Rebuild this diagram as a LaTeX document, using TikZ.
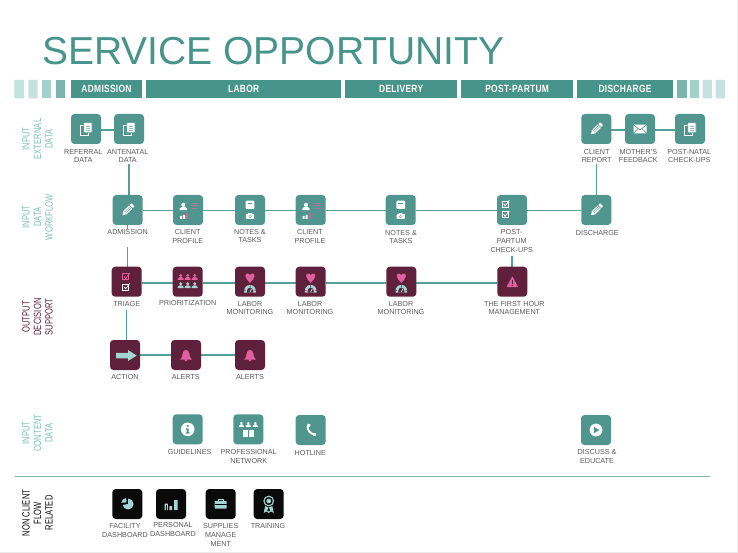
\documentclass[tikz,border=0pt]{standalone}
\usepackage{fontspec}
\setmainfont{Liberation Sans}
\newfontfamily\condfont[FakeStretch=0.72,LetterSpace=1]{Liberation Sans}
\newfontfamily\headfont[FakeStretch=0.8,LetterSpace=3]{Liberation Sans}
\pgfdeclarelayer{lines}
\pgfsetlayers{lines,main}
\definecolor{teal1}{HTML}{50968F}
\definecolor{head1}{HTML}{47948A}
\definecolor{wine}{HTML}{5F203B}
\definecolor{ink}{HTML}{0A0A0A}
\definecolor{wire}{HTML}{559F99}
\definecolor{pinkk}{HTML}{E0609F}
\definecolor{mint}{HTML}{A3D6D0}
\definecolor{capt}{HTML}{5A5A5A}
\definecolor{rowt}{HTML}{7CBFB4}
\definecolor{stripA}{HTML}{C4E2E0}
\definecolor{stripB}{HTML}{A2D0CA}
\definecolor{stripC}{HTML}{7BB4AC}
\tikzset{
  x=1pt,y=-1pt,
  tbox/.style={fill=teal1,rounded corners=3.5pt,minimum size=30pt,inner sep=0pt,outer sep=0pt},
  wbox/.style={tbox,fill=wine},
  kbox/.style={tbox,fill=ink},
  wirel/.style={draw=wire,line width=1.3pt},
  capt/.style={fill=white,inner sep=0.7pt,anchor=north,align=center,text=capt,font=\fontsize{7.2}{8.6}\selectfont},
  rowlab/.style={rotate=90,align=center,anchor=center,font=\condfont\fontsize{10.5}{11.5}\selectfont},
}
\newcommand\boxat[4]{\node[#1] (#2) at (#3,#4) {};}
\newcommand\lab[5][]{\node[capt,#1] (l#2) at (#3,#4-3.3) {#5};}
\newcommand\wirebetween[3]{\draw[wirel] ([yshift=-#3pt]#1.east) -- ([yshift=-#3pt]#2.west);}
\newcommand\phasebar[3]{\fill[head1] (#2,80) rectangle (#3,98.3); \node[text=white,font=\headfont\bfseries\fontsize{10.5}{12}\selectfont] at ({(#2+#3)/2},89) {#1};}
% small drawing helpers, all relative to an icon centre: x, y, half width, colour
\newcommand\person[4]{\fill[#4] (#1,#2-#3*.45) circle ({#3*.55}); \fill[#4] (#1-#3,#2+#3) -- (#1-#3,#2+#3*.6) -- (#1-#3*.35,#2+#3*.05) -- (#1+#3*.35,#2+#3*.05) -- (#1+#3,#2+#3*.6) -- (#1+#3,#2+#3) -- cycle;}
\newcommand\chk[3]{\draw[#3,line width=.55pt] (#1,#2) rectangle (#1+6,#2+6); \draw[#3,line width=.8pt] (#1+1.3,#2+2.8) -- (#1+3,#2+4.8) -- (#1+7,#2-.6);}
\newcommand\heart[2]{\fill[pinkk] (#1,#2+5.6) .. controls (#1-2,#2+3) and (#1-4.6,#2+1.5) .. (#1-4.6,#2-1.2) .. controls (#1-4.6,#2-4.4) and (#1-1,#2-4.6) .. (#1,#2-2) .. controls (#1+1,#2-4.6) and (#1+4.6,#2-4.4) .. (#1+4.6,#2-1.2) .. controls (#1+4.6,#2+1.5) and (#1+2,#2+3) .. (#1,#2+5.6) -- cycle;}
\tikzset{
 pics/docs/.style={code={
   \draw[white,line width=.9pt] (-5.5,-3.5) rectangle (2,6);
   \fill[white,draw=teal1,line width=.6pt,rounded corners=.6pt] (-2.2,-6.4) rectangle (6,3.8);
   \draw[teal1!60!white,line width=.5pt] (0,-3) -- (4,-3) (0,-1) -- (4,-1) (0,1) -- (4,1);
 }},
 pics/pencil/.style={code={
  \begin{scope}[rotate=45]
   \fill[white] (-4,-2.3) -- (-7.4,0) -- (-4,2.3) -- (4,2.3) -- (4,-2.3) -- cycle;
   \fill[white,rounded corners=.6pt] (4.9,-2.3) rectangle (7.4,2.3);
   \draw[teal1,line width=.4pt] (-4,-.8) -- (4,-.8) (-4,.8) -- (4,.8);
  \end{scope}
 }},
 pics/mail/.style={code={
   \fill[white,rounded corners=.6pt] (-6.5,-4.3) rectangle (6.5,4.3);
   \draw[teal1,line width=.6pt] (-6.5,-4.3) -- (0,1) -- (6.5,-4.3) (-6.5,4.3) -- (-2,-.6) (6.5,4.3) -- (2,-.6);
 }},
 pics/profile/.style={code={
   \person{-4.7}{-3.6}{3.7}{white}
   \draw[pinkk!65!teal1,line width=.7pt] (2.7,-6.5) -- (10,-6.5) (2.7,-4.2) -- (10,-4.2) (2.7,-2) -- (10,-2);
   \fill[white] (-8,6) rectangle (-6,9) (-5,4.8) rectangle (-3,9);
   \fill[pinkk] (-2,3) rectangle (0,9);
 }},
 pics/notes/.style={code={
   \fill[white,rounded corners=1pt] (-4.3,-9.3) rectangle (4.3,-1);
   \fill[teal1] (-2.3,-7.4) rectangle (2.3,-6);
   \fill[white,rounded corners=.8pt] (-4.2,4) rectangle (4.2,9);
   \fill[white] (-1.6,3.2) rectangle (1.6,4.5);
   \fill[teal1] (0,6.5) circle (1.5);
   \fill[white] (0,6.5) circle (.8);
 }},
 pics/checks/.style={code={
   \chk{-9.7}{-9}{white}
   \chk{-9.7}{1.4}{white}
 }},
 pics/triage/.style={code={
   \chk{-4}{-8}{pinkk}
   \chk{-4}{2.3}{white}
 }},
 pics/people/.style={code={
   \person{-7}{-4.8}{3}{pinkk}\person{0}{-4.8}{3}{pinkk}\person{7}{-4.8}{3}{pinkk}
   \person{-7}{3.4}{3}{mint}\person{0}{3.4}{3}{mint}\person{7}{3.4}{3}{mint}
 }},
 pics/labor/.style={code={
   \heart{0}{-4.4}
   \begin{scope}[y=1pt,shift={(0,-11)}]
   \fill[mint] (-5.8,0) -- (-5.8,2) arc[start angle=180,end angle=0,radius=5.8] -- (5.8,0) -- cycle;
   \fill[wine] (-3,0) -- (-3,2) arc[start angle=180,end angle=0,radius=3] -- (3,0) -- cycle;
   \draw[mint,line width=.9pt] (0,.6) -- (1.6,4);
   \draw[wine,line width=.5pt] (-4.4,2.2) -- (-5.8,2.6) (4.4,2.2) -- (5.8,2.6) (0,5) -- (0,8);
   \end{scope}
 }},
 pics/bell/.style={code={
   \fill[pinkk] (-6,4.6) .. controls (-3.6,3) and (-3.8,1) .. (-3.4,-1.6) .. controls (-3,-4) and (-1.4,-5) .. (0,-5) .. controls (1.4,-5) and (3,-4) .. (3.4,-1.6) .. controls (3.8,1) and (3.6,3) .. (6,4.6) -- cycle;
   \fill[pinkk] (0,5.2) circle (1.5);
 }},
 pics/flagarrow/.style={code={
   \fill[mint] (-9,-2.2) -- (3,-2.2) -- (3,-5) -- (11.7,0.6) -- (3,6) -- (3,3.4) -- (-9,3.4) -- cycle;
 }},
 pics/warn/.style={code={
   \fill[pinkk,rounded corners=.7pt] (0,-5.6) -- (5.8,5.4) -- (-5.8,5.4) -- cycle;
   \fill[wine] (-.7,-1.6) rectangle (.7,2.2);
   \fill[wine] (0,3.6) circle (.8);
 }},
 pics/info/.style={code={
   \fill[white] (0,0) circle (6.8);
   \fill[teal1] (0,-3.4) circle (1.2);
   \fill[teal1] (-1.8,-1) -- (1,-1) -- (1,3) -- (1.9,3) -- (1.9,4.4) -- (-1.9,4.4) -- (-1.9,3) -- (-1,3) -- (-1,.2) -- (-1.8,.2) -- cycle;
 }},
 pics/network/.style={code={
   \person{-7}{-5}{2.5}{white}\person{0}{-5}{2.5}{white}\person{7}{-5}{2.5}{white}
   \fill[white] (-5.6,1) rectangle (-.4,8);
   \fill[white] (.4,1) rectangle (5.6,8);
 }},
 pics/phone/.style={code={
   \draw[white,line width=2pt,line cap=round] (-3.2,-3.6) .. controls (-3.2,0) and (-.4,3.8) .. (3.6,4.4);
   \fill[white,rotate=-15] (-4.6,-5.4) rectangle (-1.6,-2.6);
   \fill[white] (2.2,2.8) rectangle (5,5.6);
 }},
 pics/play/.style={code={
   \fill[white] (0,0) circle (6.4);
   \fill[teal1] (-2,-3.2) -- (3.4,0) -- (-2,3.2) -- cycle;
 }},
 pics/piechart/.style={code={
   \begin{scope}[y=1pt]
   \fill[mint] (.8,0) -- (.8,5.5) arc[start angle=90,end angle=-170,radius=5.5] -- cycle;
   \fill[mint] (-.8,1.6) -- (-6,1.2) arc[start angle=175,end angle=95,radius=5.3] -- cycle;
   \end{scope}
 }},
 pics/barsic/.style={code={
   \fill[mint] (-6.5,-.5) rectangle (-3.2,6.2) (-1.6,2) rectangle (1.2,6.2) (3,-4) rectangle (6.5,6.2);
   \fill[ink] (-5.4,1) rectangle (-4.2,6);
 }},
 pics/brief/.style={code={
   \draw[mint,line width=.8pt] (-2.4,-2.6) -- (-2.4,-4.6) -- (2.4,-4.6) -- (2.4,-2.6);
   \fill[mint,rounded corners=.8pt] (-6,-3.2) rectangle (6,4.6);
   \fill[ink] (-6,.2) rectangle (6,1);
 }},
 pics/ribbon/.style={code={
   \fill[mint] (-3.4,1) -- (-5,9) -- (-2.4,7.4) -- (0,9) -- (2.4,7.4) -- (5,9) -- (3.4,1) -- cycle;
   \fill[ink] (0,2.8) -- (-1.4,7) -- (1.4,7) -- cycle;
   \fill[ink] (0,-3) circle (6);
   \draw[mint,line width=1.1pt] (0,-3) circle (4.8);
   \fill[mint] (0,-3) circle (2.4);
 }},
}
\begin{document}
\begin{tikzpicture}
\useasboundingbox (0,0) rectangle (738,553);
\begin{pgfonlayer}{lines}
\fill[white] (0,0) rectangle (738,553);
\end{pgfonlayer}
\draw[black!8,line width=.8pt] (737.4,0) -- (737.4,553) (0,552.6) -- (738,552.6);

\node[anchor=base west,inner sep=0pt,text=head1,font=\fontsize{39}{42}\selectfont] (title) at (42,65) {SERVICE OPPORTUNITY};

% phase strip
\fill[stripA] (14.3,80) rectangle (24,98.3) (28.3,80) rectangle (37.7,98.3);
\fill[stripB] (42,80) rectangle (51.3,98.3);
\fill[stripC] (55.7,80) rectangle (65,98.3);
\fill[stripC] (677,80) rectangle (686.7,98.3);
\fill[stripB] (690,80) rectangle (699.3,98.3);
\fill[stripA] (702.7,80) rectangle (712,98.3) (715.7,80) rectangle (725,98.3);
\phasebar{ADMISSION}{71}{142}
\phasebar{LABOR}{146}{341.3}
\phasebar{DELIVERY}{345.3}{457}
\phasebar{POST-PARTUM}{461.3}{573}
\phasebar{DISCHARGE}{577}{673}

% row titles
\node[rowlab,text=rowt] (r1) at (37.5,139) {INPUT\\EXTERNAL\\DATA};
\node[rowlab,text=rowt] (r2) at (37.5,217) {INPUT\\DATA\\WORKFLOW};
\node[rowlab,text=wine] (r3) at (37.5,317) {OUTPUT\\DECISION\\SUPPORT};
\node[rowlab,text=rowt] (r4) at (37.5,433) {INPUT\\CONTENT\\DATA};
\node[rowlab,text=ink] (r5) at (37.5,513) {NON CLIENT\\FLOW\\RELATED};

% boxes
\boxat{tbox}{ref}{86}{129}\boxat{tbox}{ant}{129}{129}
\boxat{tbox}{rep}{596.3}{129}\boxat{tbox}{mot}{640}{129}\boxat{tbox}{nat}{690}{129}
\boxat{tbox}{adm}{127.7}{210}\boxat{tbox}{cp1}{188}{210}\boxat{tbox}{nt1}{250}{210}\boxat{tbox}{cp2}{310.7}{210}
\boxat{tbox}{nt2}{400.7}{210}\boxat{tbox}{pos}{512}{210}\boxat{tbox}{dis}{596.3}{210}
\boxat{wbox}{tri}{126.7}{281.7}\boxat{wbox}{pri}{187.7}{281.7}\boxat{wbox}{lm1}{250}{281.7}\boxat{wbox}{lm2}{310.7}{281.7}
\boxat{wbox}{lm3}{401.3}{281.7}\boxat{wbox}{fir}{512.3}{281.7}
\boxat{wbox}{act}{125}{355}\boxat{wbox}{al1}{186}{355}\boxat{wbox}{al2}{250}{355}
\boxat{tbox}{gui}{187.7}{429.3}\boxat{tbox}{pro}{248.3}{429.3}\boxat{tbox}{hot}{310.7}{430}\boxat{tbox}{edu}{596}{430}
\boxat{kbox}{fac}{127.3}{504}\boxat{kbox}{per}{171}{504}\boxat{kbox}{sup}{220.7}{504}\boxat{kbox}{tra}{268.7}{504}

% icons
\pic at (ref) {docs};\pic at (ant) {docs};\pic at (nat) {docs};
\pic at (rep) {pencil};\pic at (mot) {mail};
\pic at (adm) {pencil};\pic at (dis) {pencil};
\pic at (cp1) {profile};\pic at (cp2) {profile};
\pic at (nt1) {notes};\pic at (nt2) {notes};
\pic at (pos) {checks};
\pic at (tri) {triage};\pic at (pri) {people};
\pic at (lm1) {labor};\pic at (lm2) {labor};\pic at (lm3) {labor};
\pic at (fir) {warn};
\pic at (act) {flagarrow};\pic at (al1) {bell};\pic at (al2) {bell};
\pic at (gui) {info};\pic at (pro) {network};\pic at (hot) {phone};\pic at (edu) {play};
\pic at (fac) {piechart};\pic at (per) {barsic};\pic at (sup) {brief};\pic at (tra) {ribbon};

% captions
\lab{ref}{83.3}{151.7}{REFERRAL\\DATA}
\lab{ant}{127.7}{151.7}{ANTENATAL\\DATA}
\lab{rep}{596.7}{151.7}{CLIENT\\REPORT}
\lab{mot}{638.3}{151.7}{MOTHER'S\\FEEDBACK}
\lab{nat}{689.3}{151.7}{POST-NATAL\\CHECK-UPS}
\lab[text depth=11pt]{adm}{127.7}{232.3}{ADMISSION}
\lab{cp1}{187.7}{232.3}{CLIENT\\PROFILE}
\lab{nt1}{250}{231.7}{NOTES \&\\TASKS}
\lab{cp2}{310}{232.3}{CLIENT\\PROFILE}
\lab{nt2}{401}{232.7}{NOTES \&\\TASKS}
\lab[text depth=3pt]{pos}{511.7}{232.3}{POST-\\PARTUM\\CHECK-UPS}
\lab{dis}{597.3}{232.7}{DISCHARGE}
\lab[text depth=3pt]{tri}{126.7}{303.7}{TRIAGE}
\lab{pri}{187.7}{303}{PRIORITIZATION}
\lab{lm1}{250}{303.7}{LABOR\\MONITORING}
\lab{lm2}{310}{303.7}{LABOR\\MONITORING}
\lab{lm3}{401}{303.7}{LABOR\\MONITORING}
\lab{fir}{514.3}{303.7}{THE FIRST HOUR\\MANAGEMENT}
\lab{act}{125}{377.3}{ACTION}
\lab{al1}{185.7}{377.3}{ALERTS}
\lab{al2}{250}{377.3}{ALERTS}
\lab{gui}{189.7}{452}{GUIDELINES}
\lab{pro}{248.7}{452}{PROFESSIONAL\\NETWORK}
\lab{hot}{310.3}{452.7}{HOTLINE}
\lab{edu}{597}{452}{DISCUSS \&\\EDUCATE}
\lab{fac}{125}{526.3}{FACILITY\\DASHBOARD}
\lab{per}{173}{525.3}{PERSONAL\\DASHBOARD}
\lab{sup}{220.7}{526.3}{SUPPLIES\\MANAGE\\MENT}
\lab{tra}{268}{526.3}{TRAINING}

% separator
\coordinate (sepA) at (14.7,476.7);
\coordinate (sepB) at (710,476.7);

\begin{pgfonlayer}{lines}
\draw[draw=stripB!85!black,line width=1pt] (sepA) -- (sepB);
\wirebetween{ref}{ant}{1}
\wirebetween{rep}{mot}{1}
\wirebetween{mot}{nat}{1}
\wirebetween{adm}{cp1}{.7}
\wirebetween{cp1}{nt1}{.7}
\wirebetween{nt1}{cp2}{.7}
\wirebetween{cp2}{nt2}{.7}
\wirebetween{nt2}{pos}{.7}
\wirebetween{pos}{dis}{.7}
\wirebetween{tri}{pri}{1.3}
\wirebetween{pri}{lm1}{1.3}
\wirebetween{lm1}{lm2}{1.3}
\wirebetween{lm2}{lm3}{1.3}
\wirebetween{lm3}{fir}{1.3}
\wirebetween{act}{al1}{0}
\wirebetween{al1}{al2}{0}
\draw[wirel] (lant.south -| ant.south) -- (ant.south |- adm.north);
\draw[wirel] (adm.south) -- (adm.south |- tri.north);
\draw[wirel] (ltri.south -| tri.south) -- (tri.south |- act.north);
\draw[wirel] (lpos.south -| pos.south) -- (pos.south |- fir.north);
\draw[wirel] (lrep.south -| rep.south) -- (dis.north);
\end{pgfonlayer}
\end{tikzpicture}
\end{document}
